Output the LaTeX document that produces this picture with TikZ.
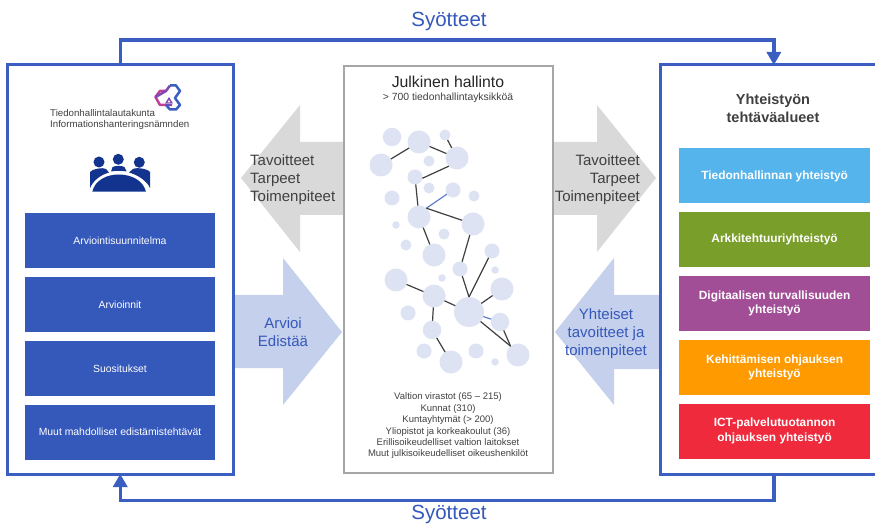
\documentclass[tikz,border=0pt]{standalone}
\usepackage{fontspec}
\setmainfont{Liberation Sans}
\usetikzlibrary{arrows.meta}
\definecolor{panelblue}{HTML}{3A5FC0}
\definecolor{blockblue}{HTML}{3558BB}
\definecolor{navyicon}{HTML}{12348F}
\definecolor{paleblue}{HTML}{C5D0EC}
\definecolor{palegrey}{HTML}{D9D9D9}
\definecolor{blobblue}{HTML}{DDE3F2}
\definecolor{darktext}{HTML}{404040}
\definecolor{areacyan}{HTML}{56B4EC}
\definecolor{areagreen}{HTML}{7A9E2A}
\definecolor{areapurple}{HTML}{A24E96}
\definecolor{areaorange}{HTML}{FF9A00}
\definecolor{areared}{HTML}{EE2A3C}
\definecolor{logopink}{HTML}{C0409A}
\definecolor{logoviolet}{HTML}{8048B0}
\tikzset{
  % Frames, coloured blocks and the two feedback lines
  panel/.style={rectangle,draw=panelblue,fill=white,line width=3pt,inner sep=0,outer sep=0},
  middle panel/.style={rectangle,draw=black!35,fill=white,line width=2pt,inner sep=0,outer sep=0},
  left block/.style={rectangle,fill=blockblue,text=white,minimum width=190pt,minimum height=55pt,inner sep=0,
    font=\fontsize{10.4}{12.5}\selectfont},
  right block/.style={rectangle,text=white,minimum width=190.7pt,minimum height=55pt,inner sep=0,align=center,
    font=\fontsize{11.9}{14.3}\selectfont\bfseries},
  feedback/.style={draw=panelblue,line width=3.5pt,-{Triangle[length=13pt,width=14pt]}},
  % Circles of the network, by size
  blob a/.style={circle,fill=blobblue,inner sep=0,outer sep=0,minimum size=30pt},
  blob b/.style={circle,fill=blobblue,inner sep=0,outer sep=0,minimum size=23pt},
  blob c/.style={circle,fill=blobblue,inner sep=0,outer sep=0,minimum size=18.5pt},
  blob d/.style={circle,fill=blobblue,inner sep=0,outer sep=0,minimum size=15pt},
  blob e/.style={circle,fill=blobblue,inner sep=0,outer sep=0,minimum size=11pt},
  blob f/.style={circle,fill=blobblue,inner sep=0,outer sep=0,minimum size=7.5pt},
  link/.style={draw=darktext,line width=1.2pt},
  blue link/.style={draw=panelblue!80,line width=1.2pt},
  % Texts
  arrow text/.style={text=darktext,inner sep=0,font=\fontsize{15}{18}\selectfont},
  blue text/.style={text=blockblue,inner sep=0,align=center,font=\fontsize{15}{18}\selectfont}
}
\begin{document}
\begin{tikzpicture}[x=1pt,y=-1pt]
  \useasboundingbox (0,0) rectangle (875,526);
  \clip (0,0) rectangle (875,526);
  % Big arrows between the frames
  \fill[palegrey] (343,142) -- (300,142) -- (300,105) -- (241,178) -- (300,252) -- (300,215) -- (343,215) -- cycle;
  \fill[palegrey] (552,142) -- (597,142) -- (597,105) -- (656,178) -- (597,252) -- (597,215) -- (552,215) -- cycle;
  \fill[paleblue] (233,295) -- (283,295) -- (283,258) -- (342,332) -- (283,405) -- (283,368) -- (233,368) -- cycle;
  \fill[paleblue] (660,295) -- (614,295) -- (614,258) -- (555,332) -- (614,405) -- (614,369) -- (660,369) -- cycle;
  % Frames
  \node[panel,minimum width=225.5pt,minimum height=409pt](leftpanel) at (120.25,269.5){};
  \node[panel,minimum width=226.3pt,minimum height=409pt](rightpanel) at (773.85,269.5){};
  \node[middle panel,minimum width=209pt,minimum height=406pt](middlepanel) at (448,269.5){};
  % Feedback lines
  \draw[feedback] (leftpanel.north) -- ++(0,-25) -| (rightpanel.north);
  \draw[feedback] (rightpanel.south) -- ++(0,26.5) -| (leftpanel.south);
  \node[text=blockblue,font=\fontsize{20.5}{24}\selectfont](inputtop) at (449,21.5){Syötteet};
  \node[text=blockblue,font=\fontsize{20.5}{24}\selectfont](inputbottom) at (449,514.5){Syötteet};
  % Texts on the big arrows
  \node[arrow text,align=left,anchor=west](needsleft) at (250,180){Tavoitteet\\Tarpeet\\Toimenpiteet};
  \node[arrow text,align=right,anchor=east](needsright) at (640,180){Tavoitteet\\Tarpeet\\Toimenpiteet};
  \node[blue text](assess) at (283,332){Arvioi\\Edistää};
  \node[blue text](goals) at (606,334){Yhteiset\\tavoitteet ja\\toimenpiteet};
  % Left frame: logo, name and icon
  \draw[line width=2.5pt,draw=logopink,line join=round] (166,91) -- (160,91) -- (155.5,97) -- (160,105) -- (166,105);
  \draw[line width=2.5pt,draw=logoviolet,line join=round] (166,105) -- (172,105) (155.5,97) -- (166,91) -- (170,85.5);
  \draw[line width=2.5pt,draw=panelblue,line join=round] (170,85.5) -- (176,85.5) -- (180,91) -- (175,98) -- (180,105) -- (176,109.5) -- (170,109.5) -- (166,105);
  \fill[logoviolet] (165,103.5) -- (169,97) -- (173,103.5) -- cycle;
  \fill[white] (167.5,102.5) -- (169,100) -- (170.5,102.5) -- cycle;
  \node[text=darktext,align=left,anchor=west,inner sep=0,font=\fontsize{9.7}{11}\selectfont](boardname) at (50,119.5)
    {Tiedonhallintalautakunta\\Informationshanteringsnämnden};
  \fill[navyicon] (99,162) circle (5.5) (118.3,159.3) circle (5.5) (139.3,162.3) circle (5.5);
  \fill[navyicon] (92.3,191.7) .. controls (95,180) and (107,174.5) .. (118.5,174.5) .. controls (131,174.5) and (143,180) .. (146,191.7) -- cycle;
  \fill[navyicon] (90,188) -- (90,172) .. controls (92,169) and (103,167) .. (106,169) -- (109,172.5) .. controls (100,175) and (93,181) .. (90,188) -- cycle;
  \fill[navyicon] (150,188) -- (150,172) .. controls (148,169) and (137,167) .. (133,169) -- (129,172.5) .. controls (138,175) and (147,181) .. (150,188) -- cycle;
  \fill[navyicon] (111,171.5) -- (112.5,167) .. controls (115,165.5) and (122,165.5) .. (124.5,167) -- (126.6,171.5) .. controls (121,170.5) and (116,170.5) .. (111,171.5) -- cycle;
  % Left frame: blocks
  \node[left block](plan) at (120,240.5){Arviointisuunnitelma};
  \node[left block](assessments) at (120,304.5){Arvioinnit};
  \node[left block](advice) at (120,368.5){Suositukset};
  \node[left block](othertasks) at (120,432){Muut mahdolliset edistämistehtävät};
  % Right frame: title and blocks
  \node[text=darktext,align=center,inner sep=0,font=\fontsize{14.5}{18}\selectfont\bfseries](areas) at (773,108){Yhteistyön\\tehtäväalueet};
  \node[right block,fill=areacyan](infoarea) at (774.6,176){Tiedonhallinnan yhteistyö};
  \node[right block,fill=areagreen](archarea) at (774.6,239.5){Arkkitehtuuriyhteistyö};
  \node[right block,fill=areapurple](securearea) at (774.6,303.5){Digitaalisen turvallisuuden\\yhteistyö};
  \node[right block,fill=areaorange](devarea) at (774.6,367.5){Kehittämisen ohjauksen\\yhteistyö};
  \node[right block,fill=areared](ictarea) at (774.6,431){ICT-palvelutuotannon\\ohjauksen yhteistyö};
  % Middle frame: title
  \node[text=black!85,inner sep=0,font=\fontsize{15.8}{18}\selectfont](publictitle) at (448,82){Julkinen hallinto};
  \node[text=darktext,inner sep=0,font=\fontsize{10.4}{12}\selectfont](publicsub) at (448,98){> 700 tiedonhallintayksikköä};
  % Network
  \node[blob c](n1) at (392,137){};
  \node[blob b](n2) at (419,142){};
  \node[blob e](n3) at (445,135){};
  \node[blob b](n4) at (457,158){};
  \node[blob b](n5) at (381,165){};
  \node[blob e](n6) at (429,161){};
  \node[blob d](n7) at (415,177){};
  \node[blob e](n8) at (429,188){};
  \node[blob d](n9) at (453,190){};
  \node[blob d](n10) at (392,198){};
  \node[blob e](n11) at (474,196){};
  \node[blob b](n12) at (419,217){};
  \node[blob b](n13) at (473,224){};
  \node[blob f](n14) at (396,225){};
  \node[blob e](n15) at (444,234){};
  \node[blob e](n16) at (406,245){};
  \node[blob b](n17) at (434,255){};
  \node[blob d](n18) at (492,251){};
  \node[blob d](n19) at (460,269){};
  \node[blob f](n20) at (495,270){};
  \node[blob b](n21) at (396,280){};
  \node[blob f](n22) at (442,278){};
  \node[blob b](n23) at (502,289){};
  \node[blob b](n24) at (434,296){};
  \node[blob a](n25) at (469,312){};
  \node[blob d](n26) at (408,313){};
  \node[blob c](n27) at (500,322){};
  \node[blob c](n28) at (432,330){};
  \node[blob d](n29) at (424,351){};
  \node[blob d](n30) at (476,351){};
  \node[blob b](n31) at (451,362){};
  \node[blob f](n32) at (495,362){};
  \node[blob b](n33) at (518,355){};
  \draw[link] (n5) -- (n2);
  \draw[link] (n2) -- (n4);
  \draw[link] (n3) -- (n4);
  \draw[link] (n4.225) -- (n7.350);
  \draw[link] (n7) -- (n12);
  \draw[blue link] (n12.50) -- (n9);
  \draw[link] (n12.50) -- (n13);
  \draw[link] (n12) -- (n17);
  \draw[link] (n13) -- (n19);
  \draw[link] (n19) -- (n25.north);
  \draw[link] (n18) -- (n25.north);
  \draw[link] (n21) -- (n24);
  \draw[link] (n24) -- (n25);
  \draw[link] (n25) -- (n23);
  \draw[blue link] (n25) -- (n27);
  \draw[link] (n25) -- (n33.130);
  \draw[link] (n27) -- (n33.130);
  \draw[link] (n24) -- (n28);
  \draw[link] (n28) -- (n31);
  % Middle frame: list
  \node[text=darktext,align=center,inner sep=0,font=\fontsize{9.5}{11.4}\selectfont](publiclist) at (448,426)
    {Valtion virastot (65 – 215)\\Kunnat (310)\\Kuntayhtymät (> 200)\\Yliopistot ja korkeakoulut (36)\\Erillisoikeudelliset valtion laitokset\\Muut julkisoikeudelliset oikeushenkilöt};
\end{tikzpicture}
\end{document}
